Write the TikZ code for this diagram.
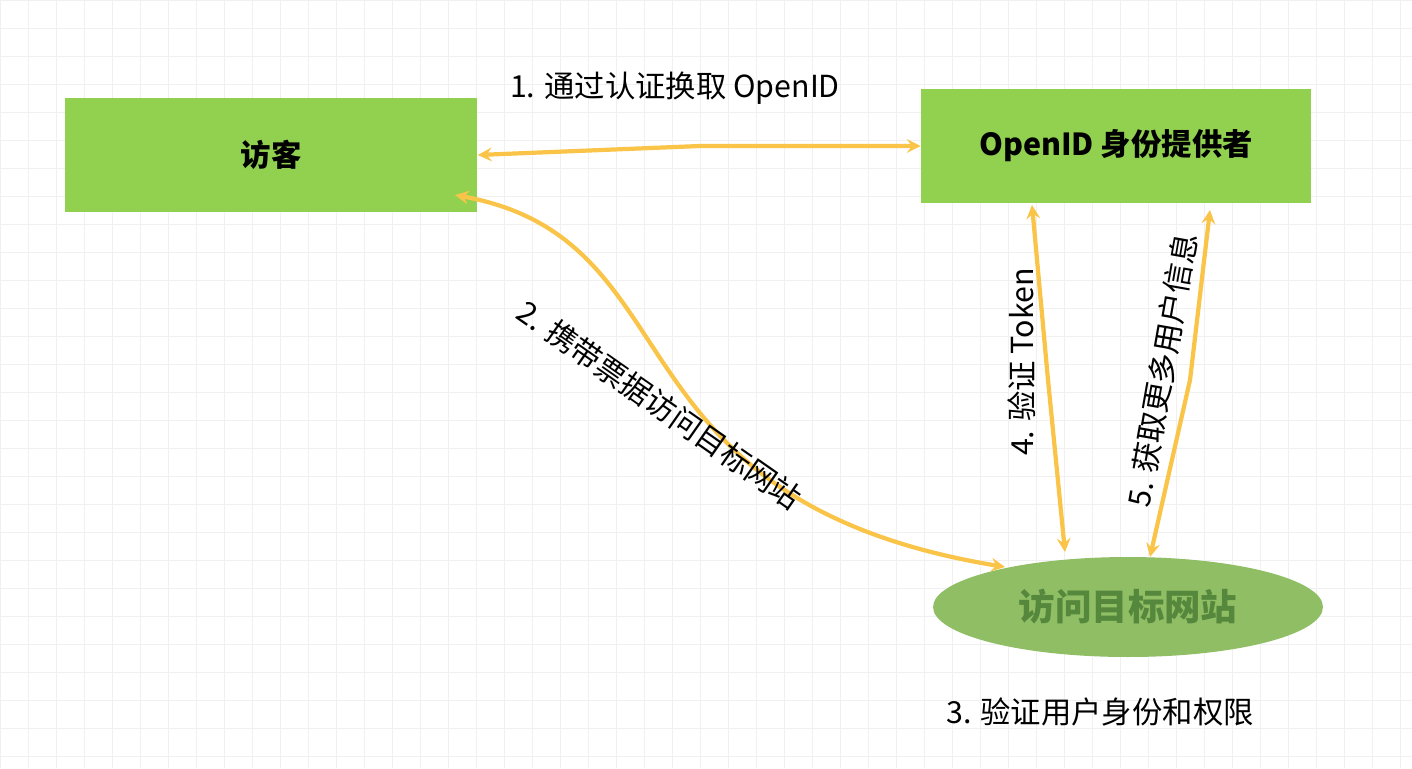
\documentclass[tikz,border=0pt]{standalone}
\usepackage{fontspec}
\setmainfont{Noto Sans CJK SC}
\usetikzlibrary{shapes.geometric}
\definecolor{leaf}{RGB}{146,208,80}
\definecolor{moss}{RGB}{143,190,100}
\definecolor{mossdark}{RGB}{85,135,60}
\definecolor{amber}{RGB}{250,196,72}
\tikzset{
  link/.style={amber,line width=2.4pt,<->,>=stealth},
  tag/.style={font=\LARGE},
  blob/.style={fill=leaf,draw=none,inner sep=0pt,minimum height=2.3cm,font=\LARGE\bfseries},
}
\begin{document}
\begin{tikzpicture}[x=0.02cm,y=-0.02cm]
\fill[white] (0,0) rectangle (1412,768);
\useasboundingbox (0,0) rectangle (1412,768);
\foreach \i in {0,28,...,1412} \draw[black!6,line width=0.4pt] (\i,0) -- (\i,768);
\foreach \j in {0,28,...,768} \draw[black!6,line width=0.4pt] (0,\j) -- (1412,\j);

\node[blob,minimum width=8.26cm] (guest) at (271,155) {访客};
\node[blob,minimum width=7.8cm] (idp) at (1116,146) {OpenID 身份提供者};
\node[ellipse,fill=moss,minimum width=7.8cm,minimum height=2cm,text=mossdark,font=\huge\bfseries] (site) at (1128,607) {访问目标网站};

\draw[link] (guest.east) -- (700,146) -- (idp.west);
\node[tag] (t1) at (675,88) {1. 通过认证换取 OpenID};

\draw[link] (455,195) .. controls (700,240) and (600,500) .. (1005,567);
\node[tag,rotate=-35] (t2) at (660,405) {2. 携带票据访问目标网站};

\draw[link] (1032,205) -- (1048,380) -- (1065,552);
\node[tag,rotate=90] (t4) at (1022,362) {4. 验证 Token};

\draw[link] (1210,210) -- (1190,380) -- (1150,557);
\node[tag,rotate=80] (t5) at (1162,370) {5. 获取更多用户信息};

\node[tag] (t3) at (1100,712) {3. 验证用户身份和权限};
\end{tikzpicture}
\end{document}
